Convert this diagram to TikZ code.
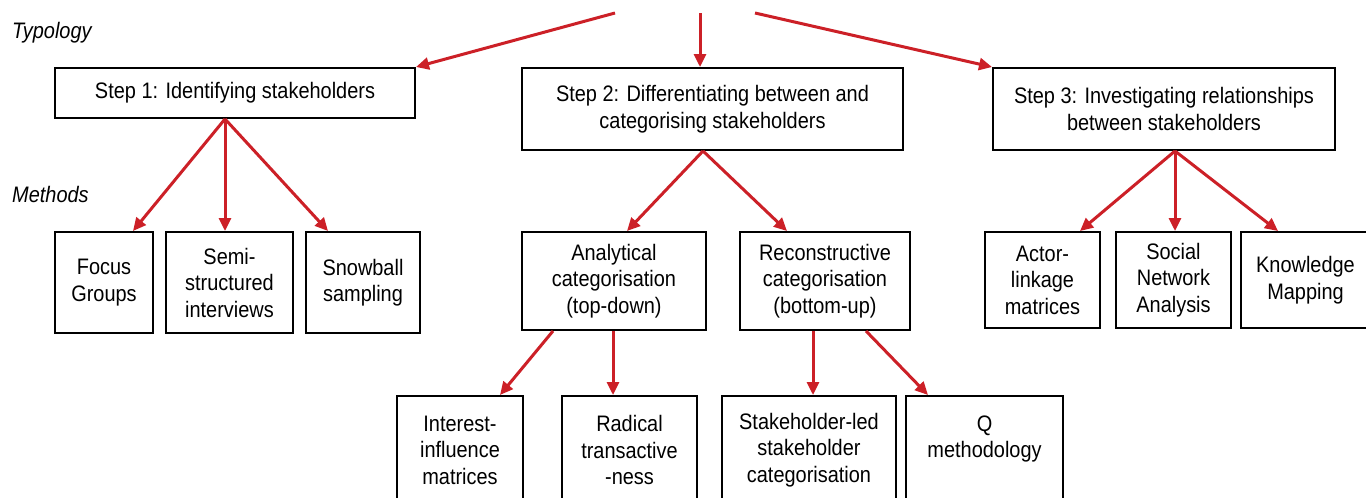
\documentclass[tikz,border=0pt]{standalone}
\usepackage{fontspec}
\setmainfont[FakeStretch=0.89]{Liberation Sans}
\usetikzlibrary{arrows.meta}
\definecolor{arrred}{RGB}{204,32,39}
\begin{document}
\begin{tikzpicture}[x=1pt,y=1pt,
  box/.style={draw=black, line width=2pt, inner sep=0pt, align=center,
    font=\fontsize{22.4}{26.5}\selectfont},
  lbl/.style={anchor=west, inner sep=0pt, font=\fontsize{22.4}{24}\selectfont\itshape},
  arr/.style={draw=arrred, line width=3pt, -{Triangle[length=13pt,width=12pt]}}]
\useasboundingbox (0,0) rectangle (1366,-498);
% labels
\node[lbl] (typ) at (12,-33) {Typology};
\node[lbl] (meth) at (12,-194) {Methods};
% step boxes
\node[box, minimum width=360, minimum height=50] (s1) at (235,-93) {Step 1: Identifying stakeholders};
\node[box, minimum width=381, minimum height=82] (s2) at (712.5,-109) {Step 2: Differentiating between and\\categorising stakeholders};
\node[box, minimum width=342, minimum height=82] (s3) at (1164,-109) {Step 3: Investigating relationships\\between stakeholders};
% method boxes
\node[box, minimum width=98, minimum height=101] (fg) at (104,-282.5) {Focus\\Groups};
\node[box, minimum width=127, minimum height=101] (ss) at (229.5,-282.5) {Semi-\\structured\\interviews};
\node[box, minimum width=114, minimum height=101] (sb) at (363,-282.5) {Snowball\\sampling};
\node[box, minimum width=184, minimum height=98] (an) at (614,-281) {Analytical\\categorisation\\(top-down)};
\node[box, minimum width=170, minimum height=98] (rc) at (825,-281) {Reconstructive\\categorisation\\(bottom-up)};
\node[box, minimum width=115, minimum height=96] (al) at (1042.5,-280) {Actor-\\linkage\\matrices};
\node[box, minimum width=115, minimum height=96] (sna) at (1173.5,-280) {Social\\Network\\Analysis};
\node[box, minimum width=129, minimum height=96] (km) at (1305.5,-280) {Knowledge\\Mapping};
% sub-method boxes
\node[box, minimum width=126, minimum height=108] (ii) at (460,-450) {Interest-\\influence\\matrices};
\node[box, minimum width=135, minimum height=108] (rt) at (629.5,-450) {Radical\\transactive\\-ness};
\node[box, minimum width=174, minimum height=108] (sl) at (809,-450) {Stakeholder-led\\stakeholder\\categorisation};
\node[box, minimum width=157, minimum height=108] (qm) at (984.5,-450) {Q\\methodology\\\mbox{}};
% top arrows
\coordinate (t1) at (615,-13);
\coordinate (t2) at (700,-13);
\coordinate (t3) at (755,-13);
\draw[arr] (t1) -- (s1.north east);
\draw[arr] (t2) -- ([xshift=-12.5pt]s2.north);
\draw[arr] (t3) -- (s3.north west);
% step 1
\draw[arr] ([xshift=-10pt]s1.south) -- ([xshift=29pt]fg.north);
\draw[arr] ([xshift=-10pt]s1.south) -- ([xshift=-4.5pt]ss.north);
\draw[arr] ([xshift=-10pt]s1.south) -- ([xshift=-35pt]sb.north);
% step 2
\draw[arr] ([xshift=-9.5pt]s2.south) -- ([xshift=13pt]an.north);
\draw[arr] ([xshift=-9.5pt]s2.south) -- ([xshift=-38pt]rc.north);
% step 3
\draw[arr] ([xshift=11pt]s3.south) -- ([xshift=37.5pt]al.north);
\draw[arr] ([xshift=11pt]s3.south) -- ([xshift=1.5pt]sna.north);
\draw[arr] ([xshift=11pt]s3.south) -- ([xshift=-27.5pt]km.north);
% analytical
\draw[arr] ([xshift=-61pt]an.south) -- ([xshift=40pt]ii.north);
\draw[arr] ([xshift=-1pt]an.south) -- ([xshift=-16.5pt]rt.north);
% reconstructive
\draw[arr] ([xshift=-12pt]rc.south) -- ([xshift=4pt]sl.north);
\draw[arr] ([xshift=41pt]rc.south) -- ([xshift=-56.5pt]qm.north);
\end{tikzpicture}
\end{document}
